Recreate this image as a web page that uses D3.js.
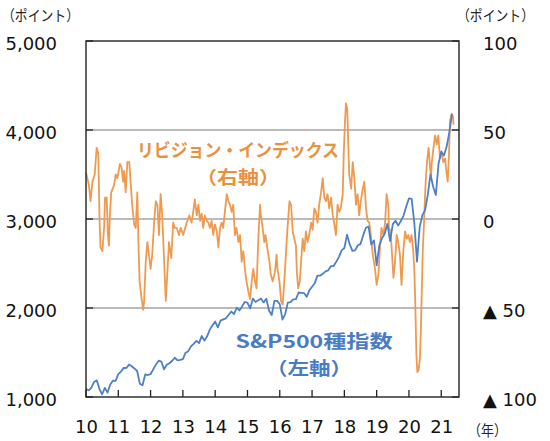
<!DOCTYPE html>
<html>
<head>
<meta charset="utf-8">
<script src="https://cdn.jsdelivr.net/npm/d3@7"></script>
<style>
  body { margin: 0; background: #fff; }
  svg { display: block; }
  .tick text { font-family: "DejaVu Sans", Verdana, sans-serif; font-size: 18px; fill: #111; }
</style>
</head>
<body>
<div id="chart-container"></div>
<script>

// S&P500 (left axis), month-end levels, first value = start of 2010
let sp500 = [
  1090,
  1074, 1104, 1169, 1187, 1089, 1031, 1102, 1049, 1141, 1183, 1181, 1258,
  1286, 1327, 1326, 1364, 1345, 1321, 1292, 1150, 1131, 1253, 1247, 1258,
  1312, 1366, 1408, 1398, 1310, 1362, 1379, 1407, 1441, 1412, 1416, 1426,
  1498, 1515, 1569, 1598, 1631, 1606, 1686, 1633, 1682, 1757, 1806, 1848,
  1783, 1859, 1872, 1884, 1924, 1960, 1931, 2003, 1972, 2018, 2068, 2059,
  1995, 2105, 2068, 2086, 2107, 2063, 2104, 1972, 1920, 2079, 2080, 2044,
  1870, 1932, 2060, 2065, 2097, 2099, 2174, 2171, 2168, 2126, 2199, 2239,
  2279, 2364, 2363, 2384, 2412, 2423, 2470, 2472, 2519, 2575, 2648, 2674,
  2824, 2714, 2641, 2648, 2705, 2718, 2816, 2902, 2914, 2712, 2760, 2480,
  2704, 2784, 2834, 2946, 2752, 2942, 2980, 2926, 2977, 3038, 3141, 3231,
  3226, 2954, 2520, 2912, 3044, 3100, 3271, 3500, 3363, 3270, 3622, 3756,
  3714, 3811, 3973, 4181
];

// revision index (right axis): years since 2010 and value
let revT = [
  0.00, 0.09, 0.14, 0.20, 0.27, 0.33, 0.38, 0.42, 0.45, 0.51, 0.56, 0.59, 0.64, 0.68, 0.71, 0.74, 0.78, 0.87, 0.92, 0.97,
  1.05, 1.10, 1.15, 1.18, 1.23, 1.28, 1.34, 1.38, 1.43, 1.49, 1.54, 1.59, 1.62, 1.66, 1.71, 1.77, 1.80, 1.85, 1.90, 1.95,
  2.00, 2.05, 2.11, 2.16, 2.21, 2.26, 2.31, 2.36, 2.42, 2.47, 2.52, 2.57, 2.64, 2.70, 2.75, 2.81, 2.88, 2.93,
  3.01, 3.12, 3.20, 3.27, 3.32, 3.37, 3.43, 3.48, 3.53, 3.58, 3.63, 3.68, 3.74, 3.79, 3.84, 3.89, 3.94, 3.99,
  4.05, 4.10, 4.15, 4.20, 4.25, 4.30, 4.36, 4.41, 4.46, 4.51, 4.56, 4.61, 4.66, 4.72, 4.77, 4.82, 4.87, 4.92, 4.97,
  5.03, 5.08, 5.13, 5.18, 5.23, 5.28, 5.34, 5.39, 5.41, 5.47, 5.52, 5.56, 5.61, 5.68, 5.72, 5.78, 5.85, 5.90, 5.93, 5.99,
  6.04, 6.09, 6.14, 6.19, 6.24, 6.30, 6.35, 6.40, 6.45, 6.50, 6.53, 6.57, 6.62, 6.66, 6.71, 6.76, 6.81, 6.86, 6.91, 6.97,
  7.02, 7.07, 7.12, 7.17, 7.22, 7.28, 7.33, 7.38, 7.43, 7.48, 7.53, 7.59, 7.64, 7.69, 7.74, 7.79, 7.84, 7.89, 7.95, 7.98,
  8.02, 8.05, 8.09, 8.12, 8.15, 8.21, 8.26, 8.31, 8.36, 8.41, 8.46, 8.51, 8.57, 8.62, 8.67, 8.72, 8.77, 8.82, 8.88, 8.95,
  9.00, 9.05, 9.10, 9.15, 9.21, 9.26, 9.31, 9.36, 9.38, 9.43, 9.47, 9.52, 9.57, 9.62, 9.67, 9.72, 9.77, 9.83, 9.88, 9.93, 9.98,
  10.03, 10.08, 10.13, 10.17, 10.20, 10.23, 10.26, 10.30, 10.34, 10.37, 10.40, 10.43, 10.47, 10.50, 10.53, 10.57, 10.61, 10.65, 10.68, 10.71,
  10.76, 10.81, 10.86, 10.91, 10.96, 11.01, 11.06, 11.12, 11.17, 11.20, 11.24, 11.27, 11.32, 11.36, 11.38
];
let revV = [
  26, 19, 10, 21, 25, 40, 37, -1, -16, -18, -5, 12, 12, -9, -15, 2, 15, 19, 25, 23,
  31, 29, 21, 27, 15, 32, 32, 21, 8, -3, -5, 15, -11, -35, -43, -51, -46, -24, -13, -20,
  -28, -20, -2, 10, 8, -9, 14, 2, -24, -46, -30, -13, -22, -2, -5, -5, -9, -5,
  -9, -2, 2, -2, 4, 11, 2, 8, -1, 3, -5, 2, -1, -2, -5, -1, -9, -3,
  -7, -16, -5, -2, -5, 4, 14, 10, 8, 4, 8, -9, -5, -13, -9, -24, -18, -28, -35,
  -41, -45, -35, -28, -35, -39, -9, 8, 3, -5, -13, -9, -16, -24, -31, -35, -30, -20, -28, -35,
  -46, -48, -35, -20, -5, 10, 8, -7, -11, -15, -30, -39, -35, -24, -11, -18, -7, -13, -9, -2,
  -6, 6, 4, -2, 8, 15, 23, 12, 10, 14, 6, 12, 2, -3, -9, 8, 4, 6, 14, 36,
  55, 65, 62, 42, 25, 17, 32, 23, 8, 14, 2, 10, 17, 21, 6, -1, -2, -9, -20, -28,
  -37, -32, -17, -5, -9, -2, 14, 8, -5, -7, -18, -33, -24, -9, -13, -20, -37, -17, -7, -11, -9,
  -13, -9, -17, -30, -50, -76, -86, -85, -78, -62, -39, -17, -1, 14, 25, 34, 40, 30, 23, 32,
  40, 47, 42, 47, 34, 38, 32, 34, 25, 21, 36, 55, 59, 58, 53
];

let leftTicks = [1000, 2000, 3000, 4000, 5000];
let rightTicks = [-100, -50, 0, 50, 100];
let yearTicks = [0, 1, 2, 3, 4, 5, 6, 7, 8, 9, 10, 11];

let w = 550, h = 441;
let plotL = 86, plotR = 459, plotT = 41, plotB = 397;

let orange = "#EF9A4F", orangeText = "#E8913F";
let blue = "#4D80C8", blueText = "#4A7CC6";

const svg = d3.select("#chart-container")
  .append("svg")
  .attr("width", w)
  .attr("height", h);

let xScale = d3.scaleLinear().domain([0, 11.55]).range([plotL, plotR]);
let yLeft = d3.scaleLinear().domain([1000, 5000]).range([plotB, plotT]);
let yRight = d3.scaleLinear().domain([-100, 100]).range([plotB, plotT]);

// gridlines (only the inner ones)
svg.selectAll(".grid")
  .data([2000, 3000, 4000])
  .enter()
  .append("line")
  .attr("x1", plotL).attr("x2", plotR)
  .attr("y1", d => yLeft(d)).attr("y2", d => yLeft(d))
  .attr("stroke", "#a3a3a3")
  .attr("stroke-width", 1.3);

// series
let spData = sp500.map((v, i) => ({ t: i / 12, v: v }));
let revData = revT.map((t, i) => ({ t: t, v: revV[i] }));

svg.append("path")
  .datum(revData)
  .attr("fill", "none")
  .attr("stroke", orange)
  .attr("stroke-width", 1.8)
  .attr("stroke-linejoin", "round")
  .attr("d", d3.line().x(d => xScale(d.t)).y(d => yRight(d.v)));

svg.append("path")
  .datum(spData)
  .attr("fill", "none")
  .attr("stroke", blue)
  .attr("stroke-width", 1.8)
  .attr("stroke-linejoin", "round")
  .attr("d", d3.line().x(d => xScale(d.t)).y(d => yLeft(d.v)));

// frame
svg.append("rect")
  .attr("x", plotL).attr("y", plotT)
  .attr("width", plotR - plotL).attr("height", plotB - plotT)
  .attr("fill", "none")
  .attr("stroke", "#222")
  .attr("stroke-width", 1.4);

// small inside ticks
const tickColor = "#222";
svg.selectAll(".xt")
  .data(yearTicks)
  .enter()
  .append("line")
  .attr("x1", d => xScale(d)).attr("x2", d => xScale(d))
  .attr("y1", plotB).attr("y2", plotB - 7)
  .attr("stroke", tickColor).attr("stroke-width", 1.3);

svg.selectAll(".lt")
  .data(leftTicks)
  .enter()
  .append("line")
  .attr("x1", plotL).attr("x2", plotL + 7)
  .attr("y1", d => yLeft(d)).attr("y2", d => yLeft(d))
  .attr("stroke", tickColor).attr("stroke-width", 1.3);

svg.selectAll(".rt")
  .data(rightTicks)
  .enter()
  .append("line")
  .attr("x1", plotR - 7).attr("x2", plotR)
  .attr("y1", d => yRight(d)).attr("y2", d => yRight(d))
  .attr("stroke", tickColor).attr("stroke-width", 1.3);

// axis labels
const yAxisL = d3.axisLeft(yLeft).tickValues(leftTicks).tickFormat(d3.format(",")).tickSize(0).tickPadding(29);
const yAxisR = d3.axisRight(yRight).tickValues(rightTicks)
  .tickFormat(d => d < 0 ? "▲ " + (-d) : String(d)).tickSize(0).tickPadding(24);
const xAxis = d3.axisBottom(xScale).tickValues(yearTicks).tickFormat(d => String(10 + d)).tickSize(0).tickPadding(23);

let gL = svg.append("g").attr("transform", "translate(" + plotL + ",0)").call(yAxisL);
let gR = svg.append("g").attr("transform", "translate(" + plotR + ",0)").call(yAxisR);
let gX = svg.append("g").attr("transform", "translate(0," + plotB + ")").call(xAxis);

svg.selectAll(".domain").remove();
gL.selectAll("text").attr("dy", "0.45em");
gR.selectAll("text").attr("dy", "0.45em");

// unit labels
const jp = "'Noto Sans CJK JP', 'Noto Sans', sans-serif";
function unitText(x, y, s, len) {
  svg.append("text")
    .attr("x", x).attr("y", y)
    .attr("textLength", len)
    .attr("lengthAdjust", "spacingAndGlyphs")
    .style("font-family", jp)
    .style("font-size", "15px")
    .style("fill", "#222")
    .text(s);
}
unitText(2, 21, "（ポイント）", 77);
unitText(457, 21, "（ポイント）", 77);
unitText(468, 436, "（年）", 39);

// series labels
function seriesText(x, y, s, len, color) {
  svg.append("text")
    .attr("x", x).attr("y", y)
    .attr("text-anchor", "middle")
    .attr("textLength", len)
    .attr("lengthAdjust", "spacingAndGlyphs")
    .style("font-family", jp)
    .style("font-size", "18px")
    .style("font-weight", "bold")
    .style("fill", color)
    .text(s);
}
seriesText(238, 157, "リビジョン・インデックス", 202, orangeText);
seriesText(238, 184, "（右軸）", 84, orangeText);
seriesText(314, 348, "S&P500種指数", 157, blueText);
seriesText(309, 375, "（左軸）", 86, blueText);

</script>
</body>
</html>
